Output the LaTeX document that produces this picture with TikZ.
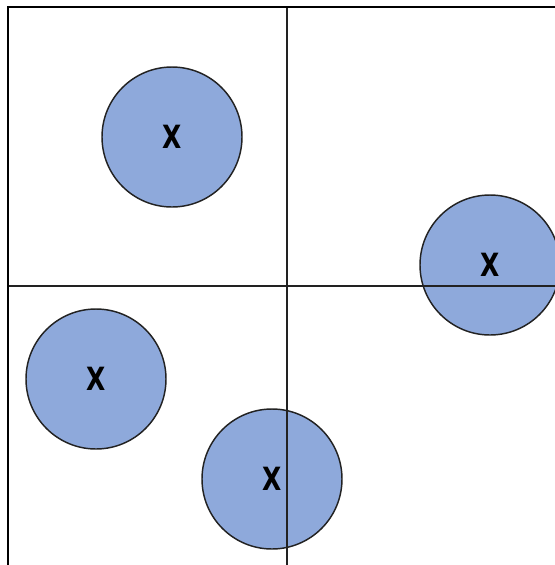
\documentclass[tikz,border=0pt]{standalone}
\usepackage{fontspec}
\setmainfont{Liberation Sans}
\newfontfamily\markfont{DejaVu Sans Bold}
\usepackage{xcolor}
\usepackage{tikz}

\definecolor{pointblue}{HTML}{8EA9DB}
\definecolor{edgegray}{HTML}{222222}

\begin{document}
\begin{tikzpicture}[
  x=0.75pt, y=-0.75pt,
  frame/.style={draw=black, line width=1.5pt},
  axis/.style={draw=edgegray, line width=1pt},
  point/.style={circle, draw=edgegray, fill=pointblue, line width=1.1pt,
    minimum size=105pt, inner sep=0pt,
    font=\markfont\fontsize{24}{28}\selectfont},
]
  \useasboundingbox (0,0) rectangle (555,565);

  \node[point] (ptA) at (172,137) {\scalebox{0.78}[1]{X}};
  \node[point] (ptB) at (490,265) {\scalebox{0.78}[1]{X}};
  \node[point] (ptC) at (96,379)  {\scalebox{0.78}[1]{X}};
  \node[point] (ptD) at (272,479) {\scalebox{0.78}[1]{X}};

  \coordinate (corner) at (7.5,6.5);
  \coordinate (topend) at (555,6.5);
  \coordinate (leftend) at (7.5,565);
  \coordinate (vtop) at (287,6.5);
  \coordinate (vbot) at (287,565);
  \coordinate (hleft) at (7.5,286);
  \coordinate (hright) at (555,286);

  \draw[axis] (vtop) -- (vbot);
  \draw[axis] (hleft) -- (hright);
  \draw[frame] (leftend) -- (corner) -- (topend);
\end{tikzpicture}
\end{document}
